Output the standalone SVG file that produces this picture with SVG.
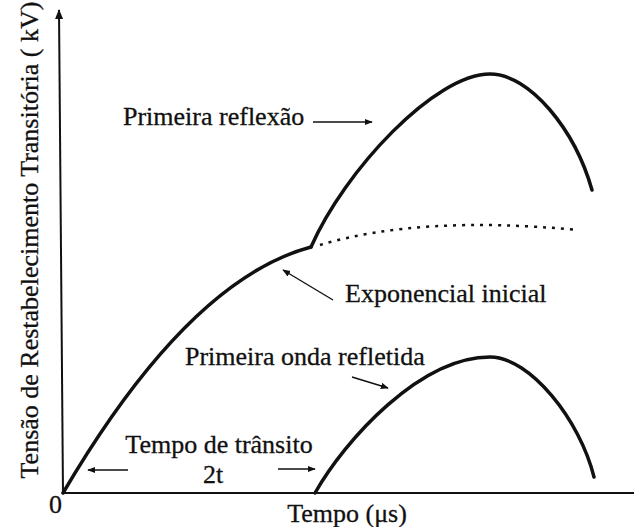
<svg xmlns="http://www.w3.org/2000/svg" width="634" height="527" viewBox="0 0 634 527">
<style>
  text { font-family: "Liberation Serif", "Times New Roman", serif; font-size: 26px; fill: #111; stroke: #111; stroke-width: 0.3; }
  .axis { stroke: #111; stroke-width: 2; fill: none; }
  .curve { stroke: #111; stroke-width: 3.5; fill: none; stroke-linecap: round; stroke-linejoin: round; }
  .dots { stroke: #111; stroke-width: 2.5; fill: none; stroke-dasharray: 3 6; }
  .arr { stroke: #111; stroke-width: 1.4; fill: none; marker-end: url(#ah); }
</style>
<defs>
  <marker id="ah" viewBox="0 0 10 10" refX="9" refY="5" markerWidth="8" markerHeight="8" markerUnits="userSpaceOnUse" orient="auto">
    <path d="M0,1 L10,5 L0,9 Z" fill="#111"/>
  </marker>
  <marker id="axh" viewBox="0 0 10 10" refX="9" refY="5" markerWidth="10" markerHeight="10" markerUnits="userSpaceOnUse" orient="auto">
    <path d="M0,1 L10,5 L0,9 Z" fill="#111"/>
  </marker>
</defs>
<rect width="634" height="527" fill="#fff"/>

<g id="axes">
  <line class="axis" x1="63" y1="493" x2="59" y2="10" marker-end="url(#axh)"/>
  <line class="axis" x1="62" y1="493" x2="634" y2="493"/>
</g>

<g id="curves">
  <path class="curve" d="M63,493 Q188,280 311,247"/>
  <path class="curve" d="M311,247 C345,170 435,74 490,74 C530,74 575,130 592,190"/>
  <path class="dots" d="M320,245 Q420,215 578,230"/>
  <path class="curve" d="M315,493 C345,440 420,357 490,357 C530,357 580,420 594,477"/>
</g>

<g id="connectors">
  <line class="arr" x1="313" y1="122" x2="372" y2="122"/>
  <line class="arr" x1="333" y1="300" x2="283" y2="270"/>
  <line class="arr" x1="352" y1="377" x2="388" y2="388"/>
  <line class="arr" x1="128" y1="470" x2="88" y2="470"/>
  <line class="arr" x1="278" y1="469" x2="315" y2="469"/>
</g>

<g id="label-primeira-reflexao"><text x="123" y="125">Primeira reflexão</text></g>
<g id="label-exponencial"><text x="345" y="302">Exponencial inicial</text></g>
<g id="label-primeira-onda"><text x="185" y="365">Primeira onda refletida</text></g>
<g id="label-transito">
  <text x="219" y="453" text-anchor="middle">Tempo de trânsito</text>
  <text x="213" y="483" text-anchor="middle">2t</text>
</g>
<g id="label-x-axis"><text x="347" y="522" text-anchor="middle">Tempo (μs)</text></g>
<g id="label-origin"><text x="55.5" y="513" text-anchor="middle">0</text></g>
<g id="label-y-axis"><text transform="translate(38,240) rotate(-90)" text-anchor="middle">Tensão de Restabelecimento Transitória ( kV)</text></g>
</svg>
